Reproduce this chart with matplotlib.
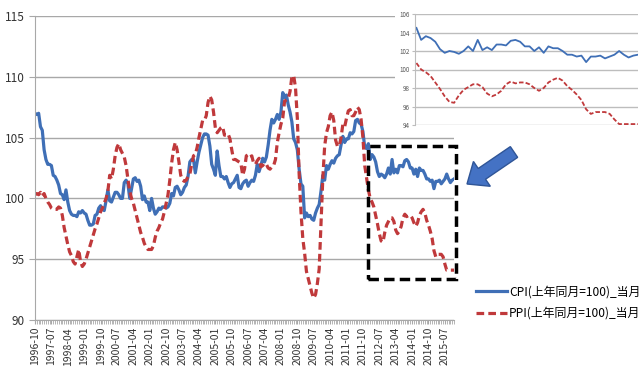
import numpy as np
import pandas as pd
import matplotlib
matplotlib.use('Agg')
import matplotlib.pyplot as plt
from matplotlib.patches import Rectangle, FancyArrow
from matplotlib.transforms import IdentityTransform

plt.rcParams['font.family'] = ['Noto Sans CJK SC', 'DejaVu Sans']

# monthly, 1996-10 .. 2015-12
months = [p.strftime('%Y-%m') for p in pd.period_range('1996-10', '2015-12', freq='M')]

cpi = [107.0, 106.9, 107.0,
       105.9, 105.6, 104.0, 103.2, 102.8, 102.8, 102.7, 101.9, 101.8, 101.5, 101.1, 100.4,
       100.3, 99.9, 100.7, 99.7, 99.0, 98.7, 98.6, 98.6, 98.5, 98.9, 98.8, 99.0,
       98.8, 98.7, 98.2, 97.8, 97.8, 97.9, 98.6, 98.7, 99.2, 99.4, 99.1, 99.0,
       99.8, 100.7, 99.8, 99.7, 100.1, 100.5, 100.5, 100.3, 100.0, 100.0, 101.3, 101.5,
       101.2, 100.0, 100.8, 101.6, 101.7, 101.4, 101.5, 101.0, 99.9, 100.2, 99.7, 99.7,
       99.0, 100.0, 99.2, 98.7, 98.9, 99.2, 99.1, 99.3, 99.3, 99.2, 99.3, 99.6,
       100.4, 100.2, 100.9, 101.0, 100.7, 100.3, 100.5, 100.9, 101.1, 101.8, 103.0, 103.2,
       103.2, 102.1, 103.0, 103.8, 104.4, 105.0, 105.3, 105.3, 105.2, 104.3, 102.8, 102.4,
       101.9, 103.9, 102.7, 101.8, 101.8, 101.6, 101.8, 101.3, 100.9, 101.2, 101.3, 101.6,
       101.9, 100.9, 100.8, 101.2, 101.4, 101.5, 101.0, 101.3, 101.5, 101.4, 101.9, 102.8,
       102.2, 102.7, 103.3, 103.0, 103.4, 104.4, 105.6, 106.5, 106.2, 106.5, 106.9, 106.5,
       107.1, 108.7, 108.3, 108.5, 107.7, 107.1, 106.3, 104.9, 104.6, 104.0, 102.4, 101.2,
       101.0, 98.4, 98.8, 98.5, 98.6, 98.3, 98.2, 98.8, 99.2, 99.5, 100.6, 101.9,
       101.5, 102.7, 102.4, 102.8, 103.1, 102.9, 103.3, 103.5, 103.6, 104.4, 105.1, 104.6,
       104.9, 104.9, 105.4, 105.3, 105.5, 106.4, 106.5, 106.2, 106.1, 105.5, 104.2, 104.1,
       104.5, 103.2, 103.6, 103.4, 103.0, 102.2, 101.8, 102.0, 101.9, 101.7, 102.0, 102.5,
       102.0, 103.2, 102.1, 102.4, 102.1, 102.7, 102.7, 102.6, 103.1, 103.2, 103.0, 102.5,
       102.5, 102.0, 102.4, 101.8, 102.5, 102.3, 102.3, 102.0, 101.6, 101.6, 101.4, 101.5,
       100.8, 101.4, 101.4, 101.5, 101.2, 101.4, 101.6, 102.0, 101.6, 101.3, 101.5, 101.6]

ppi = [100.3, 100.4, 100.3,
       100.5, 100.2, 100.4, 100.0, 99.7, 99.5, 99.2, 99.1, 99.1, 99.1, 99.3, 99.2,
       98.6, 97.6, 96.9, 96.2, 95.6, 95.3, 94.8, 94.6, 95.2, 95.8, 94.8, 94.4,
       94.6, 95.0, 95.5, 96.0, 96.5, 97.0, 97.5, 97.9, 98.4, 98.9, 99.2, 99.6,
       100.0, 100.6, 101.9, 101.6, 102.4, 103.5, 104.2, 104.5, 104.0, 103.7, 103.4, 102.7,
       101.6, 100.6, 100.0, 99.6, 99.0, 98.4, 97.8, 97.2, 96.8, 96.3, 96.0, 95.8,
       95.8, 95.8, 96.1, 96.8, 97.3, 97.6, 98.0, 98.3, 98.9, 99.6, 100.3, 101.5,
       102.9, 104.0, 104.6, 104.0, 103.0, 101.9, 101.5, 101.4, 101.5, 101.8, 102.0, 102.8,
       103.5, 103.6, 104.2, 105.0, 105.7, 106.4, 106.4, 106.8, 107.9, 108.4, 108.1, 107.1,
       105.8, 105.4, 105.6, 105.8, 105.9, 105.2, 105.2, 105.3, 104.9, 104.0, 103.2, 103.2,
       103.1, 103.0, 102.9, 101.9, 102.4, 103.5, 103.6, 103.4, 103.5, 102.9, 102.8, 103.1,
       103.3, 102.6, 102.7, 102.9, 102.8, 102.5, 102.4, 102.6, 102.7, 103.2, 104.6, 105.4,
       106.1, 106.6, 108.0, 108.1, 108.2, 108.8, 110.0, 110.1, 109.1, 106.6, 102.0, 98.9,
       96.7, 95.5, 94.0, 93.4, 92.8, 92.2, 91.8, 92.1, 93.0, 94.2, 97.9, 101.7,
       104.3, 105.4, 105.9, 106.8, 107.1, 106.4, 104.8, 104.3, 104.3, 105.0, 106.1, 105.9,
       106.6, 107.2, 107.3, 106.8, 106.8, 107.1, 107.5, 107.3, 106.5, 105.0, 102.7, 101.7,
       100.7, 100.0, 99.7, 99.3, 98.6, 97.9, 97.1, 96.5, 96.4, 97.2, 97.8, 98.1,
       98.4, 98.4, 98.1, 97.4, 97.1, 97.3, 97.7, 98.4, 98.7, 98.5, 98.6, 98.6,
       98.4, 98.0, 97.7, 98.0, 98.6, 98.9, 99.1, 98.8, 98.2, 97.8, 97.3, 96.7,
       95.7, 95.2, 95.4, 95.4, 95.4, 95.2, 94.6, 94.1, 94.1, 94.1, 94.1, 94.1]

cpi_label = 'CPI(上年同月=100)_当月'
ppi_label = 'PPI(上年同月=100)_当月'
zoom_start = months.index('2012-01')

BLUE = '#3f6fb6'
RED = '#c0393b'
GRID = '#a8a8a8'

x = np.arange(len(months))

fig = plt.figure(figsize=(6.4, 3.77), dpi=100)
ax = fig.add_axes([35 / 640, 1 - 320 / 377, 419 / 640, 304 / 377])

l1, = ax.plot(x, cpi, color=BLUE, lw=2.3, label=cpi_label)
l2, = ax.plot(x, ppi, color=RED, lw=2.3, ls=(0, (2.4, 1.3)), label=ppi_label)

ax.set_xlim(0, len(months) - 1)
ax.set_ylim(90, 115)
ax.set_yticks(range(90, 116, 5))
ax.grid(axis='y', color=GRID, lw=1)
ax.set_axisbelow(True)
for s in ['top', 'right']:
    ax.spines[s].set_visible(False)
for s in ['left', 'bottom']:
    ax.spines[s].set_color(GRID)
ax.set_xticks(x[::9])
ax.set_xticklabels(months[::9], rotation=90, fontsize=7.5, color='#333333')
ax.set_xticks(x, minor=True)
ax.tick_params(axis='x', which='both', length=3, color=GRID, pad=2)
ax.tick_params(axis='y', length=4, color=GRID, labelsize=8.5, labelcolor='#333333')

# dashed box around recent period
box = Rectangle((zoom_start, 93.4), len(months) - zoom_start, 10.9, fill=False,
                ec='black', lw=2.5, ls=(0, (3, 1.5)), clip_on=False, zorder=5)
ax.add_patch(box)

# white backing for the inset
fig.add_artist(Rectangle((395 / 640, 1 - 130 / 377), 245 / 640, 130 / 377,
                         transform=fig.transFigure, fc='white', ec='none', zorder=1))

ax2 = fig.add_axes([415 / 640, 1 - 125 / 377, 223 / 640, 111 / 377], zorder=2)
xi = np.arange(len(months) - zoom_start)
ax2.plot(xi, cpi[zoom_start:], color=BLUE, lw=1.3)
ax2.plot(xi, ppi[zoom_start:], color=RED, lw=1.3, ls=(0, (2.5, 1.2)))
ax2.set_xlim(-0.3, xi[-1])
ax2.set_ylim(94, 106)
ax2.set_yticks(range(94, 107, 2))
ax2.set_xticks([])
ax2.grid(axis='y', color='#bdbdbd', lw=1)
ax2.set_axisbelow(True)
for s in ['top', 'right', 'bottom']:
    ax2.spines[s].set_visible(False)
ax2.spines['left'].set_color('#bdbdbd')
ax2.tick_params(axis='y', length=2, color='#bdbdbd', labelsize=4.5, labelcolor='#555555', pad=2)

# arrow pointing at the box
fig.add_artist(FancyArrow(514, 377 - 152, -47, -32, width=13, head_width=30, head_length=18,
                          length_includes_head=True, fc='#4472c4', ec='#2f5597', lw=1,
                          transform=IdentityTransform(), zorder=6))

fig.legend(handles=[l1, l2], loc='upper left', bbox_to_anchor=(472 / 640, 1 - 282 / 377),
           frameon=False, fontsize=8.6, handlelength=2.6, handletextpad=0.2,
           labelspacing=0.7, borderaxespad=0, borderpad=0.3)

fig.savefig('out.png', dpi=100)
